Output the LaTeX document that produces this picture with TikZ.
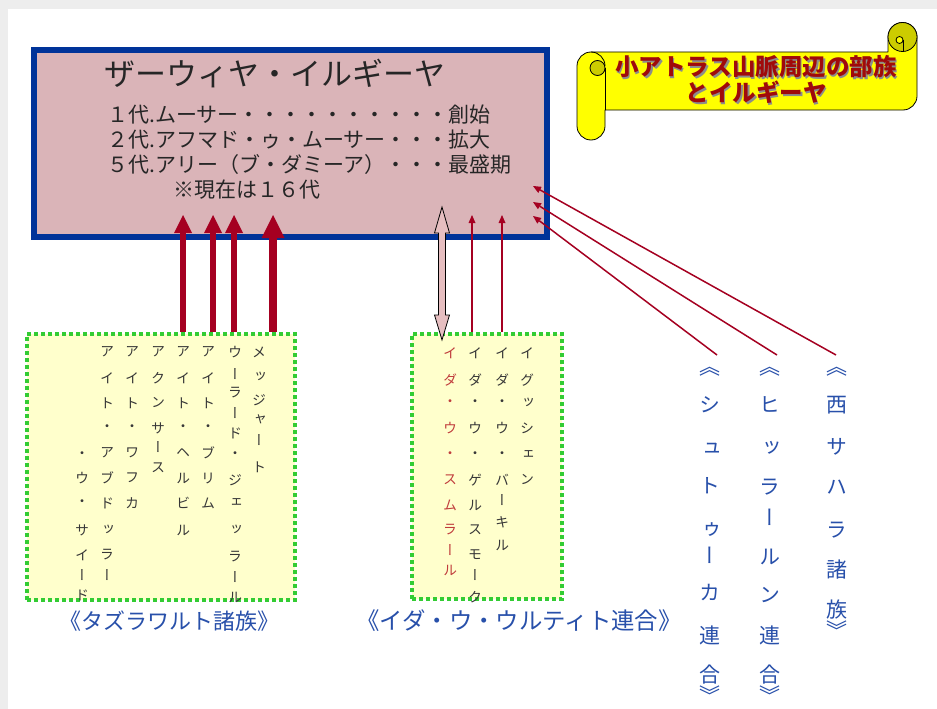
\documentclass[tikz,border=0pt]{standalone}
\usepackage{fontspec}
\setmainfont{Noto Sans CJK JP}
\newfontfamily\jpf{Noto Sans CJK JP}
\newfontfamily\vjpf[RawFeature={+vert}]{Noto Sans CJK JP}
\usetikzlibrary{arrows.meta}
\definecolor{mblue}{RGB}{0,51,153}
\definecolor{mpink}{RGB}{218,180,184}
\definecolor{arrred}{RGB}{165,0,33}
\definecolor{gdot}{RGB}{51,204,51}
\definecolor{lyel}{RGB}{255,255,204}
\definecolor{syel}{RGB}{255,255,0}
\definecolor{sdark}{RGB}{204,204,0}
\definecolor{stext}{RGB}{160,10,10}
\definecolor{lblue}{RGB}{40,80,170}
\definecolor{redtxt}{RGB}{192,60,60}
\definecolor{darr}{RGB}{230,190,192}
\definecolor{vtxt}{RGB}{55,55,55}
\newcommand\vtext[5]{%
  \foreach \yy/\cc [count=\k] in {#5}{\node[#4,text=#3] (#1-\k) at (#2,\yy) {\cc};}}
\begin{document}
\begin{tikzpicture}[x=1pt,y=-1pt,
  vch/.style={font=\vjpf\fontsize{14}{14}\selectfont, inner sep=0pt},
  vbig/.style={font=\vjpf\fontsize{21}{21}\selectfont, inner sep=0pt},
  mline/.style={font=\jpf\fontsize{21}{24}\selectfont, inner sep=0pt, anchor=base west, text=black!85},
  ttl/.style={font=\jpf\fontsize{31}{36}\selectfont, inner sep=0pt, anchor=base, text=black!85},
  stl/.style={font=\jpf\bfseries\fontsize{23.5}{28}\selectfont, inner sep=0pt, anchor=base},
  lbl/.style={font=\jpf\fontsize{22}{26}\selectfont, inner sep=0pt, text=lblue},
  gbox/.style={draw=gdot, line width=3.6pt, dash pattern=on 3.6pt off 3.4pt, fill=lyel, inner sep=0pt},
  thickar/.style={draw=arrred, line width=6pt, -{Triangle[width=18pt,length=18pt,line width=0pt]}},
  thickerar/.style={draw=arrred, line width=8pt, -{Triangle[width=23pt,length=23pt,line width=0pt]}},
  thinar/.style={draw=arrred, line width=1.5pt, -{Triangle[width=7pt,length=8pt,line width=0pt]}}
]
\useasboundingbox (0,0) rectangle (937,709);
\fill[black!7] (0,0) rectangle (937,709);
\fill[white] (8,9) rectangle (937,709);

% main box
\node[draw=mblue, line width=6pt, fill=mpink, minimum width=513pt, minimum height=186pt, inner sep=0pt] (main) at (290,143.5) {};
\node[ttl] (title) at (275,85.8) {ザーウィヤ・イルギーヤ};
\node[mline] (l1) at (107,122) {１代.ムーサー・・・・・・・・・・創始};
\node[mline] (l2) at (107,147.3) {２代.アフマド・ゥ・ムーサー・・・拡大};
\node[mline] (l3) at (107,172.6) {５代.アリー（ブ・ダミーア）・・・最盛期};
\node[mline] (l4) at (173,197.9) {※現在は１６代};

% scroll
\draw[fill=syel, line width=0.8pt, line join=round]
  (577,67) -- (577,126) arc[start angle=180, end angle=0, radius=14]
  -- (605,110) -- (903,110) arc[start angle=90, end angle=0, radius=14]
  -- (917,37) arc[start angle=0, end angle=-180, radius=14.5]
  -- (888,52) -- (591,52) arc[start angle=-90, end angle=-180, radius=14] -- cycle;
\draw[line width=0.8pt] (591,52) arc[start angle=-90, end angle=0, radius=14];
\draw[fill=sdark, line width=0.8pt] (597.5,68) circle[radius=7.5];
\draw[line width=0.8pt] (605,68) -- (605,110);
\draw[fill=sdark, line width=0.8pt] (902.5,37) circle[radius=14.5];
\draw[fill=syel, line width=0.8pt] (899.5,40) circle[radius=3.5];
\draw[line width=0.8pt] (903,40) -- (903,52);
\node[stl, text=black!45] (s1s) at (757.5,77.4) {小アトラス山脈周辺の部族};
\node[stl, text=black!45] (s2s) at (757.5,103.4) {とイルギーヤ};
\node[stl, text=stext] (s1) at (756,75.9) {小アトラス山脈周辺の部族};
\node[stl, text=stext] (s2) at (756,101.9) {とイルギーヤ};

% green boxes
\node[gbox, minimum width=268pt, minimum height=266pt] (lbox) at (161,467) {};
\node[gbox, minimum width=150pt, minimum height=265pt] (mbox) at (487,466.5) {};

% vertical texts, left box
\vtext{c1}{259}{vtxt}{vch}{352/メ,377/ッ,400/ジ,420/ャ,440/ー,467/ト}
\vtext{c2}{235}{vtxt}{vch}{352/ウ,374/ー,393/ラ,413/ー,433/ド,455/・,480/ジ,503/ェ,530/ッ,557/ラ,577/ー,597/ル}
\vtext{c3}{208}{vtxt}{vch}{352/ア,378/イ,403/ト,428/・,453/ブ,478/リ,503/ム}
\vtext{c4}{183}{vtxt}{vch}{352/ア,378/イ,403/ト,428/・,453/ヘ,478/ル,503/ビ,530/ル}
\vtext{c5}{158}{vtxt}{vch}{352/ア,378/ク,403/ン,428/サ,447/ー,468/ス}
\vtext{c6}{132}{vtxt}{vch}{352/ア,378/イ,403/ト,428/・,453/ワ,478/フ,503/カ}
\vtext{c7}{107}{vtxt}{vch}{352/ア,378/イ,403/ト,428/・,453/ア,478/ブ,503/ド,530/ッ,555/ラ,575/ー}
\vtext{c8}{82}{vtxt}{vch}{455/・,478/ウ,503/・,530/サ,555/イ,575/ー,595/ド}

% vertical texts, middle box
\vtext{m1}{450}{redtxt}{vch}{353/イ,380/ダ,403/・,428/ウ,455/・,480/ス,505/ム,530/ラ,550/ー,570/ル}
\vtext{m2}{475}{vtxt}{vch}{353/イ,380/ダ,403/・,428/ウ,455/・,480/ゲ,505/ル,530/ス,555/モ,575/ー,597/ク}
\vtext{m3}{502}{vtxt}{vch}{353/イ,380/ダ,403/・,428/ウ,455/・,480/バ,500/ー,522/キ,545/ル}
\vtext{m4}{527}{vtxt}{vch}{353/イ,380/グ,403/ッ,428/シ,455/ェ,480/ン}

% right vertical labels
\vtext{r1}{710}{lblue}{vbig}{372/《,405/シ,450/ュ,486/ト,530/ゥ,555/ー,593/カ,635/連,675/合,695/》}
\vtext{r2}{770}{lblue}{vbig}{372/《,405/ヒ,448/ッ,487/ラ,517/ー,557/ル,595/ン,635/連,675/合,695/》}
\vtext{r3}{837}{lblue}{vbig}{372/《,405/西,447/サ,487/ハ,530/ラ,570/諸,610/族,630/》}

% bottom labels
\node[lbl] (tz) at (169,621) {《タズラワルト諸族》};
\node[lbl, font=\jpf\fontsize{23.4}{27}\selectfont] (iu) at (519,621) {《イダ・ウ・ウルティト連合》};

% arrow end points
\coordinate (a1) at (183,215);
\coordinate (a2) at (213,215);
\coordinate (a3) at (234,215);
\coordinate (a4) at (273,215);
\coordinate (b1) at (472,215);
\coordinate (b2) at (502,215);
\coordinate (d1) at (533,216);
\coordinate (d2) at (533,202);
\coordinate (d3) at (533,186);
\coordinate (e1) at (717,355);
\coordinate (e2) at (777,355);
\coordinate (e3) at (836,355);

\draw[thickar] (183,0 |- lbox.north) -- (a1);
\draw[thickar] (213,0 |- lbox.north) -- (a2);
\draw[thickar] (234,0 |- lbox.north) -- (a3);
\draw[thickerar] (273,0 |- lbox.north) -- (a4);
\draw[thinar] (472,0 |- mbox.north) -- (b1);
\draw[thinar] (502,0 |- mbox.north) -- (b2);
\draw[thinar] (e1) -- (d1);
\draw[thinar] (e2) -- (d2);
\draw[thinar] (e3) -- (d3);

% double arrow
\draw[fill=darr, draw=black, line width=0.8pt, line join=miter]
  (442,207) -- (449.5,233) -- (445.5,233) -- (445.5,315) -- (449.5,315) -- (442,340)
  -- (434.5,315) -- (438.5,315) -- (438.5,233) -- (434.5,233) -- cycle;
\end{tikzpicture}
\end{document}
